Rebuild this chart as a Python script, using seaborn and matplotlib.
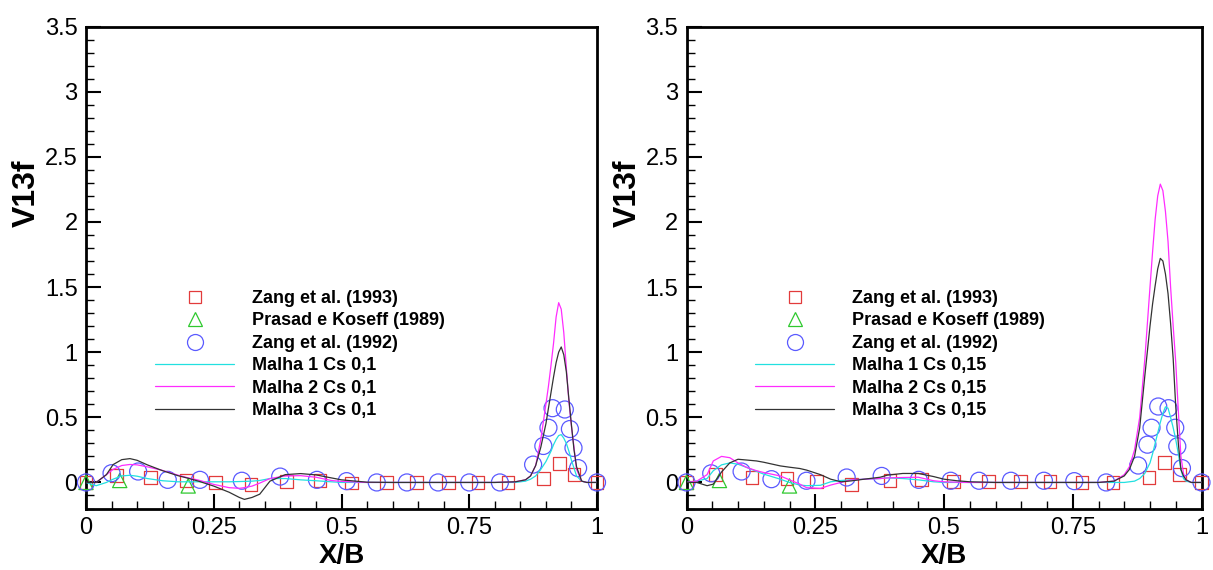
import matplotlib
matplotlib.use("Agg")
import matplotlib.pyplot as plt
import seaborn as sns
from matplotlib.lines import Line2D
from matplotlib.ticker import MultipleLocator, FuncFormatter

sns.set_style("white")
plt.rcParams['font.family'] = ['Liberation Sans', 'DejaVu Sans']
plt.rcParams['text.color'] = 'black'
plt.rcParams['axes.labelcolor'] = 'black'
plt.rcParams['xtick.color'] = 'black'
plt.rcParams['ytick.color'] = 'black'

# ---------------- data: left panel (Cs 0,1) ----------------
sq_x_L = [0.0, 0.059, 0.127, 0.196, 0.254, 0.323, 0.393, 0.458, 0.52, 0.588, 0.647, 0.709, 0.767, 0.826, 0.895, 0.926, 0.955, 1.0]
sq_y_L = [0.0, 0.056, 0.036, 0.018, 0.0, -0.013, 0.005, 0.013, -0.005, 0.0, 0.0, 0.0, 0.0, 0.0, 0.03, 0.145, 0.06, 0.0]
tri_x_L = [0.0, 0.066, 0.2]
tri_y_L = [0.0, 0.015, -0.027]
circ_x_L = [0.0, 0.05, 0.102, 0.16, 0.223, 0.305, 0.38, 0.452, 0.51, 0.569, 0.628, 0.689, 0.75, 0.81,
            0.875, 0.895, 0.905, 0.913, 0.937, 0.947, 0.954, 0.963, 1.0]
circ_y_L = [0.0, 0.071, 0.084, 0.02, 0.02, 0.013, 0.045, 0.02, 0.01, 0.0, 0.0, 0.0, 0.0, 0.0,
            0.137, 0.28, 0.42, 0.57, 0.56, 0.41, 0.265, 0.11, 0.0]

line_x_L = [0, 0.02, 0.04, 0.053, 0.07, 0.086, 0.1, 0.12, 0.15, 0.18, 0.2, 0.22, 0.25, 0.28, 0.3, 0.31,
            0.325, 0.34, 0.36, 0.39, 0.42, 0.45, 0.48, 0.5, 0.55, 0.6, 0.7, 0.8, 0.84, 0.86, 0.87, 0.88,
            0.89, 0.9, 0.905, 0.91, 0.915, 0.92, 0.925, 0.93, 0.935, 0.94, 0.945, 0.95, 0.955, 0.96,
            0.97, 0.98, 1.0]
malha1_L = [0, -0.025, 0.0, 0.025, 0.05, 0.055, 0.048, 0.03, 0.013, 0.005, 0.005, 0.005, 0.005, 0.005, 0.007, 0.008,
            0.01, 0.015, 0.03, 0.03, 0.02, 0.013, 0.005, 0.0, 0.0, 0, 0, 0, 0, 0.01, 0.025, 0.05,
            0.1, 0.16, 0.2, 0.24, 0.29, 0.33, 0.36, 0.367, 0.34, 0.3, 0.24, 0.17, 0.11, 0.05,
            0.01, 0, 0]
malha2_L = [0, 0.0, 0.06, 0.1, 0.13, 0.138, 0.135, 0.12, 0.092, 0.056, 0.035, 0.018, -0.015, -0.04, -0.045, -0.04,
            -0.028, -0.005, 0.03, 0.05, 0.052, 0.04, 0.015, 0.008, 0.0, 0, 0, 0, 0.005, 0.02, 0.05, 0.13,
            0.33, 0.6, 0.74, 0.9, 1.07, 1.27, 1.38, 1.33, 1.15, 0.88, 0.62, 0.43, 0.27, 0.1,
            0.01, 0, 0]
malha3_L = [0, 0.0, 0.06, 0.137, 0.175, 0.183, 0.17, 0.135, 0.09, 0.052, 0.032, 0.01, -0.028, -0.075, -0.115, -0.13,
            -0.115, -0.09, 0.01, 0.06, 0.068, 0.058, 0.035, 0.02, 0.002, 0, 0, 0, 0.005, 0.02, 0.05, 0.13,
            0.27, 0.45, 0.57, 0.69, 0.81, 0.92, 1.0, 1.04, 0.98, 0.85, 0.64, 0.44, 0.25, 0.12,
            0.01, 0, 0]

# ---------------- data: right panel (Cs 0,15) ----------------
sq_x_R = [0.0, 0.057, 0.127, 0.195, 0.253, 0.321, 0.395, 0.457, 0.519, 0.587, 0.648, 0.706, 0.768, 0.828, 0.898, 0.928, 0.957, 1.0]
sq_y_R = [0.0, 0.064, 0.038, 0.03, 0.005, -0.018, 0.013, 0.02, 0.005, 0.005, 0.005, 0.005, 0.0, 0.0, 0.035, 0.155, 0.06, 0.0]
tri_x_R = [0.0, 0.064, 0.2]
tri_y_R = [0.0, 0.015, -0.027]
circ_x_R = [0.0, 0.048, 0.107, 0.165, 0.233, 0.311, 0.379, 0.451, 0.513, 0.568, 0.63, 0.694, 0.753, 0.815,
            0.877, 0.895, 0.903, 0.916, 0.936, 0.949, 0.953, 0.962, 1.0]
circ_y_R = [0.0, 0.07, 0.084, 0.025, 0.013, 0.038, 0.05, 0.02, 0.013, 0.013, 0.013, 0.013, 0.01, 0.0,
            0.13, 0.29, 0.42, 0.583, 0.57, 0.42, 0.277, 0.11, 0.0]

line_x_R = [0, 0.02, 0.04, 0.052, 0.068, 0.084, 0.1, 0.117, 0.136, 0.15, 0.182, 0.2, 0.22, 0.233, 0.26, 0.28,
            0.3, 0.32, 0.345, 0.376, 0.39, 0.42, 0.45, 0.48, 0.5, 0.525, 0.55, 0.6, 0.7, 0.8, 0.83, 0.85,
            0.86, 0.87, 0.88, 0.89, 0.9, 0.905, 0.91, 0.915, 0.92, 0.925, 0.93, 0.935, 0.94, 0.945,
            0.95, 0.955, 0.96, 0.965, 0.97, 0.98, 1.0]
malha1_R = [0, 0.01, 0.03, 0.09, 0.135, 0.15, 0.14, 0.115, 0.085, 0.064, 0.025, 0.0, -0.02, -0.025, -0.022, 0.005,
            0.015, 0.02, 0.025, 0.03, 0.035, 0.03, 0.02, 0.005, 0.0, 0, 0, 0, 0, 0, 0, 0,
            0.005, 0.01, 0.03, 0.07, 0.15, 0.22, 0.3, 0.38, 0.46, 0.53, 0.58, 0.57, 0.5, 0.42,
            0.33, 0.22, 0.1, 0.03, 0.01, 0, 0]
malha2_R = [0, 0.01, 0.06, 0.165, 0.2, 0.19, 0.15, 0.115, 0.09, 0.076, 0.05, 0.02, -0.013, -0.04, -0.046, -0.02,
            0.0, 0.02, 0.025, 0.03, 0.035, 0.038, 0.04, 0.013, 0.005, 0.002, 0, 0, 0, 0, 0.01, 0.06,
            0.12, 0.25, 0.5, 0.95, 1.5, 1.77, 2.02, 2.2, 2.29, 2.24, 2.08, 1.85, 1.5, 1.2,
            0.92, 0.55, 0.2, 0.07, 0.02, 0, 0]
malha3_R = [0, 0.0, -0.025, -0.013, 0.08, 0.15, 0.178, 0.172, 0.165, 0.155, 0.127, 0.117, 0.107, 0.095, 0.06, 0.025,
            0.005, 0.012, 0.025, 0.04, 0.056, 0.069, 0.069, 0.045, 0.025, 0.013, 0.005, 0, 0, 0, 0.01, 0.05,
            0.1, 0.2, 0.42, 0.82, 1.2, 1.37, 1.51, 1.64, 1.72, 1.7, 1.6, 1.45, 1.22, 0.95,
            0.58, 0.3, 0.1, 0.05, 0.02, 0, 0]

legend_labels_L = ["Zang et al. (1993)", "Prasad e Koseff (1989)", "Zang et al. (1992)",
                   "Malha 1 Cs 0,1", "Malha 2 Cs 0,1", "Malha 3 Cs 0,1"]
legend_labels_R = ["Zang et al. (1993)", "Prasad e Koseff (1989)", "Zang et al. (1992)",
                   "Malha 1 Cs 0,15", "Malha 2 Cs 0,15", "Malha 3 Cs 0,15"]
x_label = "X/B"
y_label = "V13f"

# ---------------- styles ----------------
C_SQ = "#e23b3b"
C_TRI = "#2fc92f"
C_CIRC = "#5a5aff"
C_M1 = "#22e0e0"
C_M2 = "#ff2cff"
C_M3 = "#333333"

W, H = 1213, 570
fig = plt.figure(figsize=(W / 100, H / 100), dpi=100)
top_px, bot_px = 26.5, 508.5
ax1 = fig.add_axes([86 / W, 1 - bot_px / H, 511 / W, (bot_px - top_px) / H])
ax2 = fig.add_axes([686.5 / W, 1 - bot_px / H, 515 / W, (bot_px - top_px) / H])

fmt = FuncFormatter(lambda v, p: f"{v:g}")


def draw(ax, sqx, sqy, trx, try_, cx, cy, lx, m1, m2, m3, labels, leg_x, width_px):
    sns.scatterplot(x=sqx, y=sqy, ax=ax, marker="s", s=85, color="none", edgecolor=C_SQ,
                    linewidth=0.9, clip_on=False, zorder=3)
    sns.scatterplot(x=trx, y=try_, ax=ax, marker="^", s=105, color="none", edgecolor=C_TRI,
                    linewidth=0.9, clip_on=False, zorder=3)
    sns.scatterplot(x=cx, y=cy, ax=ax, marker="o", s=150, color="none", edgecolor=C_CIRC,
                    linewidth=0.9, clip_on=False, zorder=3)
    sns.lineplot(x=lx, y=m1, ax=ax, color=C_M1, lw=0.9, estimator=None, sort=False, zorder=4)
    sns.lineplot(x=lx, y=m2, ax=ax, color=C_M2, lw=0.9, estimator=None, sort=False, zorder=4)
    sns.lineplot(x=lx, y=m3, ax=ax, color=C_M3, lw=0.9, estimator=None, sort=False, zorder=4)

    ax.set_xlim(0, 1)
    ax.set_ylim(-0.2, 3.5)
    ax.xaxis.set_major_locator(MultipleLocator(0.25))
    ax.xaxis.set_minor_locator(MultipleLocator(0.05))
    ax.yaxis.set_major_locator(MultipleLocator(0.5))
    ax.yaxis.set_minor_locator(MultipleLocator(0.1))
    ax.xaxis.set_major_formatter(fmt)
    ax.yaxis.set_major_formatter(fmt)
    ax.tick_params(which="major", direction="in", length=11, width=1.5, labelsize=17,
                   pad=6, top=False, right=False, bottom=True, left=True, colors="black")
    ax.tick_params(which="minor", direction="in", length=6, width=1.0,
                   top=False, right=False, bottom=True, left=True, colors="black")
    for sp in ax.spines.values():
        sp.set_visible(True)
        sp.set_linewidth(2.0)
        sp.set_color("black")
    ax.set_xlabel(x_label, fontsize=20, fontweight="bold", labelpad=3)
    ax.set_ylabel(y_label, fontsize=23, fontweight="bold")
    ax.yaxis.set_label_coords(-44 / width_px, 0.655)
    ax.grid(False)

    handles = [
        Line2D([], [], marker="s", ls="", mfc="none", mec=C_SQ, ms=9, mew=0.9),
        Line2D([], [], marker="^", ls="", mfc="none", mec=C_TRI, ms=10.5, mew=0.9),
        Line2D([], [], marker="o", ls="", mfc="none", mec=C_CIRC, ms=11.5, mew=0.9),
        Line2D([], [], color=C_M1, lw=0.9),
        Line2D([], [], color=C_M2, lw=0.9),
        Line2D([], [], color=C_M3, lw=0.9),
    ]
    leg = ax.legend(handles, labels, loc="upper left", bbox_to_anchor=(leg_x / W, 1 - 290 / H),
                    bbox_transform=fig.transFigure, frameon=False, borderpad=0, borderaxespad=0,
                    handlelength=4.4, handletextpad=1.0, labelspacing=0.30,
                    prop={"weight": "bold", "size": 13, "family": ["Liberation Sans", "DejaVu Sans"]})
    for t in leg.get_texts():
        t.set_color("black")


draw(ax1, sq_x_L, sq_y_L, tri_x_L, tri_y_L, circ_x_L, circ_y_L,
     line_x_L, malha1_L, malha2_L, malha3_L, legend_labels_L, 155, 511)
draw(ax2, sq_x_R, sq_y_R, tri_x_R, tri_y_R, circ_x_R, circ_y_R,
     line_x_R, malha1_R, malha2_R, malha3_R, legend_labels_R, 755, 515)

fig.savefig("out.png", dpi=100)
